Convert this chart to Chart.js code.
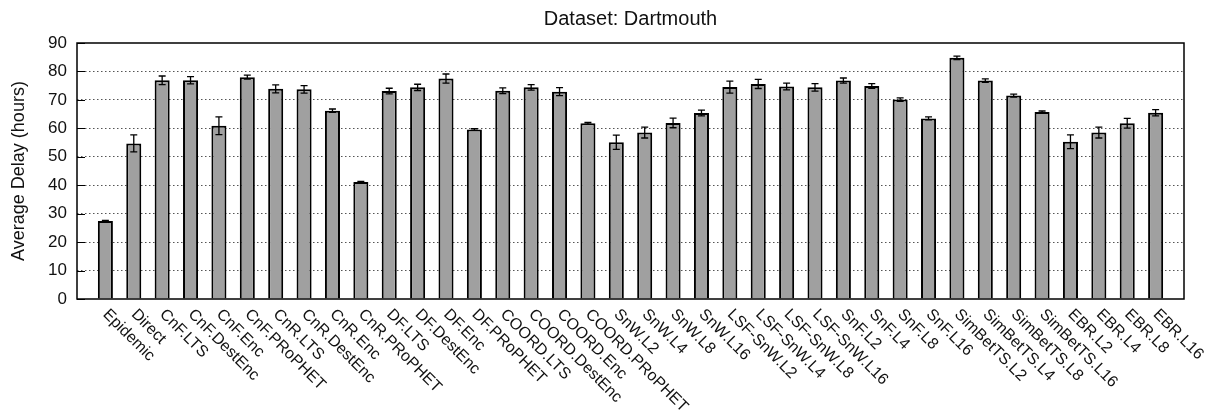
<!DOCTYPE html>
<html>
<head>
<meta charset="utf-8">
<script src="https://cdn.jsdelivr.net/npm/chart.js@4.4.1/dist/chart.umd.min.js"></script>
<style>
  html, body { margin: 0; padding: 0; background: #fff; }
</style>
</head>
<body>
<canvas id="chart" width="1215" height="414"></canvas>
<script>
const categories = [
  'Epidemic', 'Direct', 'CnF.LTS', 'CnF.DestEnc', 'CnF.Enc', 'CnF.PRoPHET',
  'CnR.LTS', 'CnR.DestEnc', 'CnR.Enc', 'CnR.PRoPHET',
  'DF.LTS', 'DF.DestEnc', 'DF.Enc', 'DF.PRoPHET',
  'COORD.LTS', 'COORD.DestEnc', 'COORD.Enc', 'COORD.PRoPHET',
  'SnW.L2', 'SnW.L4', 'SnW.L8', 'SnW.L16',
  'LSF-SnW.L2', 'LSF-SnW.L4', 'LSF-SnW.L8', 'LSF-SnW.L16',
  'SnF.L2', 'SnF.L4', 'SnF.L8', 'SnF.L16',
  'SimBetTS.L2', 'SimBetTS.L4', 'SimBetTS.L8', 'SimBetTS.L16',
  'EBR.L2', 'EBR.L4', 'EBR.L8', 'EBR.L16'
];
const delays = [
  27.4, 54.7, 76.9, 76.9, 60.9, 78.0,
  73.9, 73.7, 66.2, 41.1,
  73.1, 74.4, 77.5, 59.6,
  73.2, 74.4, 72.9, 61.8,
  55.1, 58.5, 61.9, 65.4,
  74.5, 75.6, 74.7, 74.4,
  76.8, 74.9, 70.1, 63.5,
  84.8, 76.8, 71.5, 65.7,
  55.3, 58.5, 61.8, 65.5
];
const errors = [
  0.2, 3.0, 1.5, 1.3, 3.1, 0.7,
  1.4, 1.3, 0.6, 0.2,
  1.0, 1.1, 1.6, 0.3,
  1.0, 1.0, 1.4, 0.3,
  2.5, 1.9, 1.7, 1.0,
  2.1, 1.6, 1.2, 1.3,
  0.9, 0.8, 0.6, 0.5,
  0.6, 0.6, 0.5, 0.4,
  2.4, 1.9, 1.7, 1.1
];
const yTicks = [0, 10, 20, 30, 40, 50, 60, 70, 80, 90];

const FONT = '"Liberation Sans", Arial, Helvetica, sans-serif';

// gnuplot-style error bars with short caps
const errorBars = {
  id: 'errorBars',
  afterDatasetsDraw(chart) {
    const { ctx, scales: { y } } = chart;
    const meta = chart.getDatasetMeta(0);
    ctx.save();
    ctx.strokeStyle = '#000';
    ctx.lineWidth = 1.3;
    meta.data.forEach((bar, i) => {
      const top = y.getPixelForValue(delays[i] + errors[i]);
      const bot = y.getPixelForValue(delays[i] - errors[i]);
      ctx.beginPath();
      ctx.moveTo(bar.x, top); ctx.lineTo(bar.x, bot);
      ctx.moveTo(bar.x - 3.5, top); ctx.lineTo(bar.x + 3.5, top);
      ctx.moveTo(bar.x - 3.5, bot); ctx.lineTo(bar.x + 3.5, bot);
      ctx.stroke();
    });
    ctx.restore();
  }
};

// plot frame, inward y tics and rotated category labels
const frame = {
  id: 'frame',
  afterDraw(chart) {
    const { ctx, chartArea: a, scales: { x, y } } = chart;
    ctx.save();
    ctx.strokeStyle = '#000';
    ctx.lineWidth = 1.5;
    ctx.strokeRect(a.left, a.top, a.right - a.left, a.bottom - a.top);
    ctx.lineWidth = 1;
    ctx.beginPath();
    yTicks.forEach(v => {
      const py = Math.round(y.getPixelForValue(v)) + 0.5;
      ctx.moveTo(a.left, py); ctx.lineTo(a.left + 8, py);
    });
    ctx.stroke();

    ctx.fillStyle = '#111';
    ctx.font = '16px ' + FONT;
    ctx.textAlign = 'left';
    ctx.textBaseline = 'middle';
    categories.forEach((name, i) => {
      ctx.save();
      ctx.translate(x.getPixelForValue(i + 1), a.bottom + 13);
      ctx.rotate(Math.PI / 4);
      ctx.fillText(name, 0, 0);
      ctx.restore();
    });
    ctx.restore();
  }
};

new Chart(document.getElementById('chart'), {
  type: 'bar',
  data: {
    datasets: [{
      data: categories.map((c, i) => ({ x: i + 1, y: delays[i] })),
      backgroundColor: '#a0a0a0',
      borderColor: '#000',
      borderWidth: 2,
      barPercentage: 0.53,
      categoryPercentage: 1
    }]
  },
  options: {
    responsive: false,
    animation: false,
    devicePixelRatio: 1,
    layout: { padding: { left: 0, right: 31, top: 0, bottom: 0 } },
    plugins: {
      legend: { display: false },
      tooltip: { enabled: false },
      title: {
        display: true,
        fullSize: false,
        text: 'Dataset: Dartmouth',
        color: '#111',
        font: { family: FONT, size: 20, weight: 'normal' },
        padding: { top: 7, bottom: 12 }
      }
    },
    scales: {
      x: {
        type: 'linear',
        min: 0,
        max: categories.length + 1,
        offset: false,
        grid: { display: false },
        border: { display: false },
        ticks: { display: false },
        afterFit: s => { s.height = 115; }
      },
      y: {
        min: 0,
        max: 90,
        afterBuildTicks: s => { s.ticks = yTicks.map(v => ({ value: v })); },
        grid: {
          drawTicks: false,
          color: c => (c.tick && (c.tick.value === 0 || c.tick.value === 90)) ? 'rgba(0,0,0,0)' : '#555',
          lineWidth: 1
        },
        border: { display: false, dash: [1.5, 2.5] },
        ticks: { padding: 10, color: '#111', font: { family: FONT, size: 17 } },
        title: {
          display: true,
          text: 'Average Delay (hours)',
          color: '#111',
          font: { family: FONT, size: 18 },
          padding: { top: 8, bottom: 0 }
        },
        afterFit: s => { s.width = 77; }
      }
    }
  },
  plugins: [errorBars, frame]
});
</script>
</body>
</html>
